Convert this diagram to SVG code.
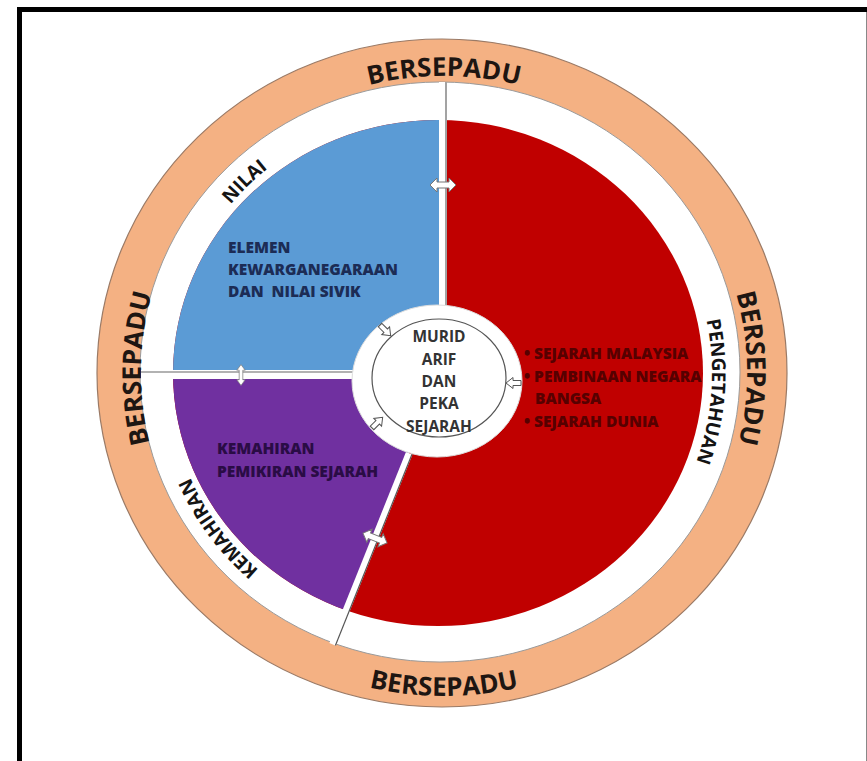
<svg xmlns="http://www.w3.org/2000/svg" xmlns:xlink="http://www.w3.org/1999/xlink" width="867" height="761" viewBox="0 0 867 761">
<style>
.ring{font-family:"Open Sans","Noto Sans",sans-serif;font-weight:700;font-size:26px;fill:#1e1612}
.band{font-family:"Open Sans","Noto Sans",sans-serif;font-weight:700;font-size:19px;fill:#141414}
.sec{font-family:"Open Sans","Noto Sans",sans-serif;font-weight:800;font-size:15.5px}
.mid{font-family:"Open Sans","Noto Sans",sans-serif;font-weight:700;font-size:15.5px;fill:#333;text-anchor:middle}
.dbl{fill:#fff;stroke:#777;stroke-width:1}
.sgl{fill:#fff;stroke:#555;stroke-width:1}
</style>
<defs>
<clipPath id="disk"><ellipse cx="438" cy="373" rx="265" ry="253"/></clipPath>
<path id="pTop" d="M229.7,163 A303,297 0 0 1 658.3,163"/>
<path id="pLeft" d="M229.7,583 A303,297 0 0 1 229.7,163"/>
<path id="pRight" d="M658.3,163 A303,297 0 0 1 658.3,583"/>
<path id="pBottom" d="M210.7,601.4 A330,323 0 0 0 677.3,601.4"/>
<path id="pNilai" d="M177.3,304.7 A272,264 0 0 1 369.6,118"/>
<path id="pPeng" d="M648.4,203.3 A272,264 0 0 1 622,569.2"/>
<path id="pKem" d="M327.6,613.4 A272,264 0 0 1 169.3,398.8"/>
<path id="dblArrow" d="M-13,0 L-6,-7 L-6,-3 L6,-3 L6,-7 L13,0 L6,7 L6,3 L-6,3 L-6,7 Z"/>
<path id="sglArrow" d="M-7,-2.5 L1,-2.5 L1,-5.5 L8,0 L1,5.5 L1,2.5 L-7,2.5 Z"/>
</defs>
<rect width="867" height="761" fill="#fff"/>
<g id="frame">
<rect x="17" y="7" width="850" height="5" fill="#000"/>
<rect x="17" y="7" width="5" height="754" fill="#000"/>
<line x1="866.5" y1="12" x2="866.5" y2="761" stroke="#888" stroke-width="1"/>
</g>
<g id="ring-bersepadu">
<ellipse cx="442" cy="373" rx="345" ry="334" fill="#F4B183" stroke="#9a7a66" stroke-width="1.2"/>
<ellipse cx="440" cy="372" rx="300" ry="290" fill="#fff" stroke="#9a9a9a" stroke-width="1"/>
<text class="ring"><textPath xlink:href="#pTop" href="#pTop" startOffset="50%" text-anchor="middle">BERSEPADU</textPath></text>
<text class="ring"><textPath xlink:href="#pLeft" href="#pLeft" startOffset="51%" text-anchor="middle">BERSEPADU</textPath></text>
<text class="ring"><textPath xlink:href="#pRight" href="#pRight" startOffset="49%" text-anchor="middle">BERSEPADU</textPath></text>
<text class="ring"><textPath xlink:href="#pBottom" href="#pBottom" startOffset="50%" text-anchor="middle">BERSEPADU</textPath></text>
</g>
<g id="pengetahuan">
<ellipse cx="438" cy="373" rx="265" ry="253" fill="#C00000"/>
<text class="band"><textPath xlink:href="#pPeng" href="#pPeng" startOffset="50%" text-anchor="middle">PENGETAHUAN</textPath></text>
<g class="sec" fill="#560000">
<text x="524" y="359">• SEJARAH MALAYSIA</text>
<text x="524" y="382">• PEMBINAAN NEGARA</text>
<text x="535" y="404">BANGSA</text>
<text x="524" y="427">• SEJARAH DUNIA</text>
</g>
</g>
<g id="nilai">
<path d="M100,100 L439,100 L439,371 L100,371 Z" fill="#5B9BD5" clip-path="url(#disk)"/>
<text class="band"><textPath xlink:href="#pNilai" href="#pNilai" startOffset="50%" text-anchor="middle">NILAI</textPath></text>
<g class="sec" fill="#1c2c55">
<text x="228" y="253">ELEMEN</text>
<text x="228" y="275">KEWARGANEGARAAN</text>
<text x="228" y="297" style="white-space:pre">DAN  NILAI SIVIK</text>
</g>
</g>
<g id="kemahiran">
<path d="M100,378 L439,378 L315.6,686.4 L100,686 Z" fill="#7030A0" clip-path="url(#disk)"/>
<text class="band"><textPath xlink:href="#pKem" href="#pKem" startOffset="50%" text-anchor="middle">KEMAHIRAN</textPath></text>
<g class="sec" fill="#2a0c45">
<text x="217" y="454">KEMAHIRAN</text>
<text x="217" y="477">PEMIKIRAN SEJARAH</text>
</g>
</g>
<g id="connectors">
<rect x="439" y="82" width="8" height="225" fill="#fff"/>
<line x1="446" y1="82" x2="446" y2="307" stroke="#666" stroke-width="1.2"/>
<rect x="141" y="370" width="214" height="9" fill="#fff"/>
<line x1="141" y1="372" x2="355" y2="372" stroke="#666" stroke-width="1.2"/>
<line x1="409.2" y1="453.2" x2="332.6" y2="644.4" stroke="#fff" stroke-width="7"/>
<line x1="412" y1="454.3" x2="335.4" y2="645.5" stroke="#555" stroke-width="1.2"/>
<use href="#dblArrow" xlink:href="#dblArrow" class="dbl" transform="translate(443,185)"/>
<use href="#dblArrow" xlink:href="#dblArrow" class="dbl" transform="translate(241,375) rotate(90) scale(0.8,0.6)"/>
<use href="#dblArrow" xlink:href="#dblArrow" class="dbl" transform="translate(375,538) rotate(22)"/>
</g>
<g id="murid">
<ellipse cx="437" cy="381" rx="85" ry="76" fill="#fff" stroke="#ddd" stroke-width="1"/>
<ellipse cx="439" cy="378" rx="67" ry="59" fill="none" stroke="#555" stroke-width="1.2"/>
<text class="mid" x="439" y="342">MURID</text>
<text class="mid" x="439" y="365">ARIF</text>
<text class="mid" x="439" y="387">DAN</text>
<text class="mid" x="439" y="409">PEKA</text>
<text class="mid" x="439" y="432">SEJARAH</text>
<use href="#sglArrow" xlink:href="#sglArrow" class="sgl" transform="translate(385,330) rotate(45)"/>
<use href="#sglArrow" xlink:href="#sglArrow" class="sgl" transform="translate(514,383) rotate(180)"/>
<use href="#sglArrow" xlink:href="#sglArrow" class="sgl" transform="translate(377,423) rotate(-45)"/>
</g>
</svg>
